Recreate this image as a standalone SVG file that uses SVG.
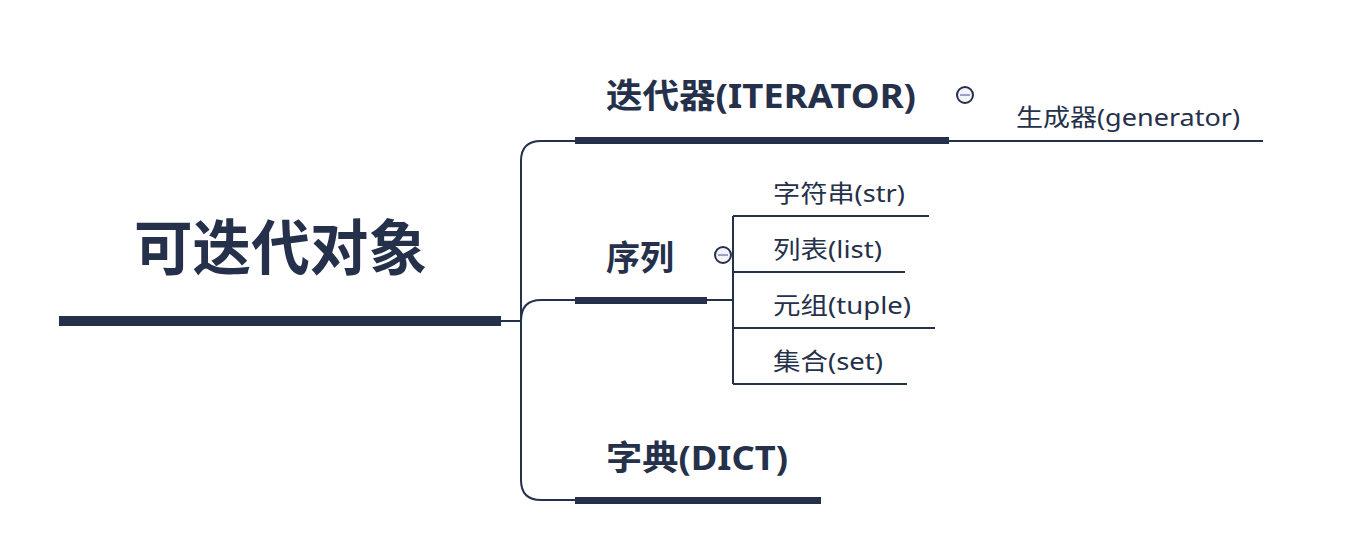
<svg xmlns="http://www.w3.org/2000/svg" width="1363" height="552" viewBox="0 0 1363 552">
<style>
.t{font-family:"Noto Sans","Noto Sans CJK SC",sans-serif;fill:#25304a}
.b{font-weight:bold}
.bar{fill:#25304a}
.ln{fill:none;stroke:#25304a;stroke-width:2}
.col{fill:#f4f4f8;stroke:#25304a;stroke-width:2}
.minus{stroke:#9aa0c8;stroke-width:2}
</style>
<rect width="1363" height="552" fill="#ffffff"/>
<g id="connectors">
<path class="ln" d="M501 321 H521 M521 321 V161 Q521 141 541 141 H575 M521 321 Q521 300 541 300 H575 M521 321 V480 Q521 500 541 500 H575"/>
<path class="ln" d="M949 141 H1263"/>
<path class="ln" d="M707 300 H733 M733 216 V384 M733 216 H929 M733 272 H905 M733 328 H935 M733 384 H907"/>
</g>
<g id="root">
<rect class="bar" x="59" y="316" width="442" height="10"/>
<text class="t b" x="134" y="270" font-size="60" textLength="293" lengthAdjust="spacingAndGlyphs">可迭代对象</text>
</g>
<g id="iterator">
<rect class="bar" x="575" y="137" width="374" height="7"/>
<text class="t b" x="606" y="108" font-size="34" textLength="310" lengthAdjust="spacingAndGlyphs">迭代器(ITERATOR)</text>
<circle class="col" cx="965" cy="95" r="8"/>
<line class="minus" x1="960" y1="95" x2="970" y2="95"/>
</g>
<g id="sequence">
<rect class="bar" x="575" y="297" width="132" height="7"/>
<text class="t b" x="606" y="270" font-size="34">序列</text>
<circle class="col" cx="723" cy="255" r="8"/>
<line class="minus" x1="718" y1="255" x2="728" y2="255"/>
</g>
<g id="dict">
<rect class="bar" x="575" y="497" width="246" height="7"/>
<text class="t b" x="606" y="470" font-size="34" textLength="182" lengthAdjust="spacingAndGlyphs">字典(DICT)</text>
</g>
<g id="generator"><text class="t" x="1016" y="126" font-size="24" textLength="224" lengthAdjust="spacingAndGlyphs">生成器(generator)</text></g>
<g id="str"><text class="t" x="773" y="202" font-size="24" textLength="132" lengthAdjust="spacingAndGlyphs">字符串(str)</text></g>
<g id="list"><text class="t" x="773" y="258" font-size="24" textLength="109" lengthAdjust="spacingAndGlyphs">列表(list)</text></g>
<g id="tuple"><text class="t" x="773" y="314" font-size="24" textLength="138" lengthAdjust="spacingAndGlyphs">元组(tuple)</text></g>
<g id="set"><text class="t" x="773" y="370" font-size="24" textLength="110" lengthAdjust="spacingAndGlyphs">集合(set)</text></g>
</svg>
